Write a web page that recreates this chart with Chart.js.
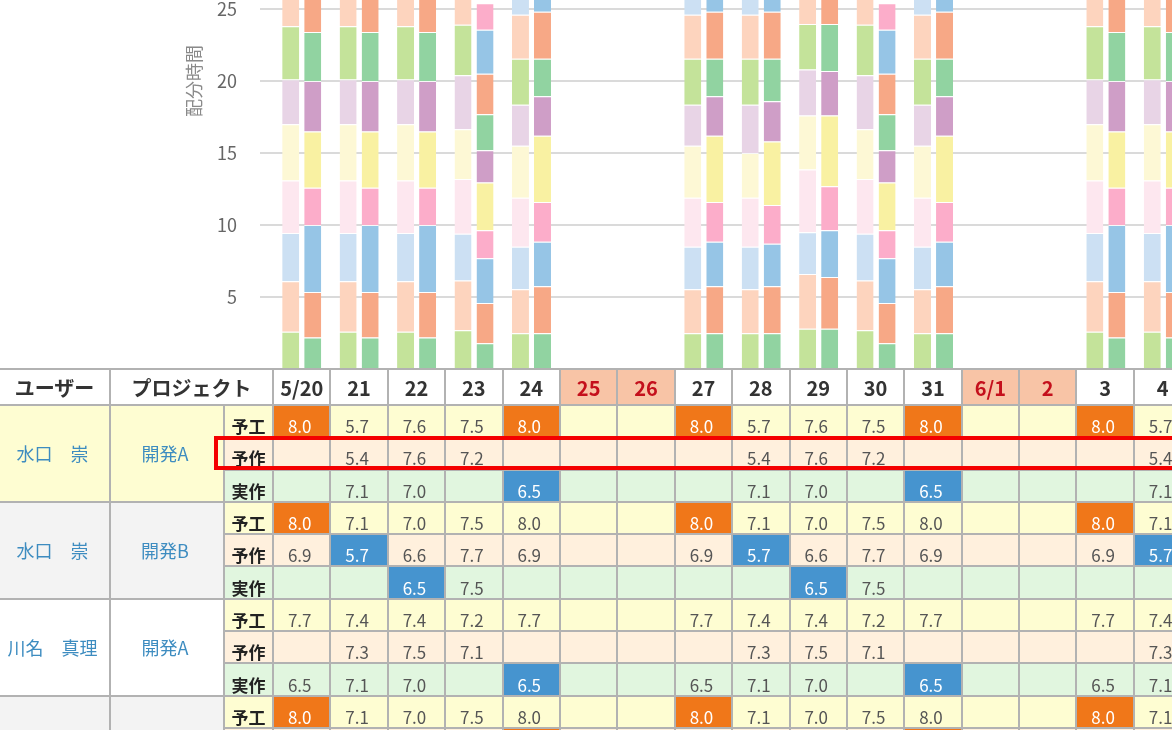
<!DOCTYPE html>
<html lang="ja">
<head>
<meta charset="utf-8">
<title>配分時間</title>
<script src="https://cdn.jsdelivr.net/npm/chart.js@4.4.1/dist/chart.umd.min.js"></script>
<style>
  html, body { margin: 0; padding: 0; background: #fff; }
  body {
    width: 1172px; height: 730px; overflow: hidden; position: relative;
    font-family: "Noto Sans CJK JP", "Noto Sans", sans-serif;
  }
  #chartBox { position: absolute; left: 0; top: -216px; width: 1192px; }
  #grid {
    position: absolute; left: 0; top: 368px;
    border-collapse: collapse; table-layout: fixed; width: 1192px;
  }
  #grid th, #grid td {
    border: 2px solid #b2b2b2; padding: 0; text-align: center;
    white-space: nowrap; overflow: hidden;
  }
  #grid th:first-child, #grid td.user { border-left: 0; }
  #grid thead tr { height: 36px; }
  #grid thead th {
    font-size: 20px; font-weight: bold; color: #333; background: #fff;
  }
  #grid thead th.off { background: #f8c4a6; color: #c4101c; }
  #grid tbody tr { height: 32.3px; }
  #grid td {
    font-size: 17px; color: #555; line-height: 20px;
    padding-top: 10px; padding-right: 4px; vertical-align: middle;
  }
  #grid td.user, #grid td.proj {
    color: #3d8cc0; padding: 0 4px 0 0; font-size: 18px;
  }
  #grid td.lbl { font-weight: bold; color: #222; font-size: 17px; padding-right: 0; }
  #grid tr.yk td { background: #fefdd2; }
  #grid tr.ys td { background: #fff0dd; }
  #grid tr.js td { background: #e1f6df; }
  #grid td.g0 { background: #fefdd2 !important; }
  #grid td.g1 { background: #f3f3f3 !important; }
  #grid td.g2 { background: #ffffff !important; }
  #grid td.g3 { background: #f3f3f3 !important; }
  #grid td.o { background: #f07719 !important; color: #fff; }
  #grid td.b { background: #4694cf !important; color: #fff; }
  #focusBox {
    position: absolute; left: 214px; top: 436px; width: 1000px; height: 34px;
    box-sizing: border-box; border: 4px solid #f40000;
  }
</style>
</head>
<body>
<div id="chartBox"><canvas id="allocChart" width="1192" height="600"></canvas></div>
<table id="grid">
  <colgroup id="cols"></colgroup>
  <thead><tr id="headRow"></tr></thead>
  <tbody id="gridBody"></tbody>
</table>
<div id="focusBox"></div>
<script>
// days shown (weekend/holiday flags)
const days = ["5/20", "21", "22", "23", "24", "25", "26", "27", "28", "29", "30", "31", "6/1", "2", "3", "4"];
const offDays = [false, false, false, false, false, true, true, false, false, false, false, false, true, true, false, false];

const yTicks = [0, 5, 10, 15, 20, 25, 30, 35, 40];

// 予定 stack, bottom to top
const plan1 = [2.6, 2.6, 2.6, 2.7, 2.5, null, null, 2.5, 2.5, 2.8, 2.7, 2.5, null, null, 2.6, 2.6];
const plan2 = [3.5, 3.5, 3.5, 3.45, 3.05, null, null, 3.05, 3.05, 3.8, 3.45, 3.05, null, null, 3.5, 3.5];
const plan3 = [3.35, 3.35, 3.35, 3.25, 2.95, null, null, 2.95, 2.95, 2.9, 3.25, 2.95, null, null, 3.35, 3.35];
const plan4 = [3.65, 3.65, 3.65, 3.8, 3.4, null, null, 3.4, 3.4, 4.35, 3.8, 3.4, null, null, 3.65, 3.65];
const plan5 = [3.9, 3.9, 3.9, 3.45, 3.6, null, null, 3.6, 3.1, 3.75, 3.45, 3.6, null, null, 3.9, 3.9];
const plan6 = [3.1, 3.1, 3.1, 3.75, 2.85, null, null, 2.85, 3.35, 3.2, 3.75, 2.85, null, null, 3.1, 3.1];
const plan7 = [3.7, 3.7, 3.7, 3.5, 3.2, null, null, 3.2, 3.2, 3.15, 3.5, 3.2, null, null, 3.7, 3.7];
const plan8 = [3.4, 3.4, 3.4, 3.3, 3.05, null, null, 3.05, 3.05, 3.0, 3.3, 3.05, null, null, 3.4, 3.4];
const plan9 = [2.0, 2.0, 2.0, 1.5, 1.5, null, null, 1.5, 1.5, 1.5, 1.5, 1.5, null, null, 2.0, 2.0];

// 実績 stack, bottom to top
const act1 = [2.2, 2.2, 2.2, 1.8, 2.5, null, null, 2.5, 2.5, 2.8, 1.8, 2.5, null, null, 2.2, 2.2];
const act2 = [3.15, 3.15, 3.15, 2.8, 3.25, null, null, 3.25, 3.25, 3.6, 2.8, 3.25, null, null, 3.15, 3.15];
const act3 = [4.65, 4.65, 4.65, 3.1, 3.1, null, null, 3.1, 2.95, 3.25, 3.1, 3.1, null, null, 4.65, 4.65];
const act4 = [2.6, 2.6, 2.6, 1.95, 2.75, null, null, 2.75, 2.7, 3.05, 1.95, 2.75, null, null, 2.6, 2.6];
const act5 = [3.9, 3.9, 3.9, 3.3, 4.6, null, null, 4.6, 4.4, 4.9, 3.3, 4.6, null, null, 3.9, 3.9];
const act6 = [3.5, 3.5, 3.5, 2.25, 2.75, null, null, 2.75, 2.8, 3.1, 2.25, 2.75, null, null, 3.5, 3.5];
const act7 = [3.4, 3.4, 3.4, 2.5, 2.6, null, null, 2.6, 2.95, 3.25, 2.5, 2.6, null, null, 3.4, 3.4];
const act8 = [3.2, 3.2, 3.2, 2.8, 3.25, null, null, 3.25, 3.25, 3.0, 2.8, 3.25, null, null, 3.2, 3.2];
const act9 = [1.0, 1.0, 1.0, 3.05, 1.5, null, null, 1.5, 1.5, 1.0, 3.05, 1.5, null, null, 1.0, 1.0];
const act10 = [null, null, null, 1.85, null, null, null, null, null, null, 1.85, null, null, null, null, null];

const planColors = ["#c4e39a", "#fdd4be", "#cce0f3", "#fde7ef", "#fdf8d5", "#e8d4e6", "#c4e39a", "#fdd4be", "#cce0f3"];
const actColors = ["#91d3a1", "#f7a886", "#96c5e6", "#fcadca", "#f9f1a2", "#cf9ec7", "#91d3a1", "#f7a886", "#96c5e6", "#fcadca"];

// table rows: users, projects, values per day, marks (o = orange, b = blue)
const rowLabels = ["予工", "予作", "実作"];
const users = ["水口　崇", "水口　崇", "川名　真理", ""];
const projects = ["開発A", "開発B", "開発A", ""];

const g1Plan = [8.0, 5.7, 7.6, 7.5, 8.0, null, null, 8.0, 5.7, 7.6, 7.5, 8.0, null, null, 8.0, 5.7];
const g1Work = [null, 5.4, 7.6, 7.2, null, null, null, null, 5.4, 7.6, 7.2, null, null, null, null, 5.4];
const g1Done = [null, 7.1, 7.0, null, 6.5, null, null, null, 7.1, 7.0, null, 6.5, null, null, null, 7.1];
const g1Marks = ["o...o..o...o..o.", "................", "....b......b...."];

const g2Plan = [8.0, 7.1, 7.0, 7.5, 8.0, null, null, 8.0, 7.1, 7.0, 7.5, 8.0, null, null, 8.0, 7.1];
const g2Work = [6.9, 5.7, 6.6, 7.7, 6.9, null, null, 6.9, 5.7, 6.6, 7.7, 6.9, null, null, 6.9, 5.7];
const g2Done = [null, null, 6.5, 7.5, null, null, null, null, null, 6.5, 7.5, null, null, null, null, null];
const g2Marks = ["o......o......o.", ".b......b......b", "..b......b......"];

const g3Plan = [7.7, 7.4, 7.4, 7.2, 7.7, null, null, 7.7, 7.4, 7.4, 7.2, 7.7, null, null, 7.7, 7.4];
const g3Work = [null, 7.3, 7.5, 7.1, null, null, null, null, 7.3, 7.5, 7.1, null, null, null, null, 7.3];
const g3Done = [6.5, 7.1, 7.0, null, 6.5, null, null, 6.5, 7.1, 7.0, null, 6.5, null, null, 6.5, 7.1];
const g3Marks = ["................", "................", "....b......b...."];

const g4Plan = [8.0, 7.1, 7.0, 7.5, 8.0, null, null, 8.0, 7.1, 7.0, 7.5, 8.0, null, null, 8.0, 7.1];
const g4Work = [6.9, 5.7, 6.6, 7.7, 8.0, null, null, 6.9, 5.7, 6.6, 7.7, 8.0, null, null, 6.9, 5.7];
const g4Done = [null, null, null, null, null, null, null, null, null, null, null, null, null, null, null, null];
const g4Marks = ["o......o......o.", "....o......o....", "................"];


const planLayers = [plan1, plan2, plan3, plan4, plan5, plan6, plan7, plan8, plan9];
const actLayers = [act1, act2, act3, act4, act5, act6, act7, act8, act9, act10];

const datasets = [];

planLayers.forEach(function(values, i) {
    datasets.push({
        label: "予定" + (i + 1),
        stack: "plan",
        data: values,
        backgroundColor: planColors[i],
        borderColor: "rgba(255,255,255,0.8)",
        borderWidth: { top: 1, bottom: 0, left: 0, right: 0 },
        borderSkipped: false
    });
});

actLayers.forEach(function(values, i) {
    datasets.push({
        label: "実績" + (i + 1),
        stack: "actual",
        data: values,
        backgroundColor: actColors[i],
        borderColor: "rgba(255,255,255,0.8)",
        borderWidth: { top: 1, bottom: 0, left: 0, right: 0 },
        borderSkipped: false
    });
});

Chart.defaults.font.family = '"Noto Sans CJK JP", "Noto Sans", sans-serif';

const canvas = document.getElementById("allocChart");

function buildChart(height) {
    canvas.height = height;
    canvas.style.height = height + "px";
    canvas.style.width = "1192px";

    return new Chart(canvas, {
        type: "bar",
        data: { labels: days, datasets: datasets },
        options: {
            responsive: false,
            animation: false,
            layout: { padding: 0 },
            categoryPercentage: 0.767,
            barPercentage: 0.773,
            plugins: {
                legend: { display: false },
                tooltip: { enabled: false }
            },
            scales: {
                x: {
                    stacked: true,
                    grid: { display: false },
                    ticks: { display: false },
                    border: { display: true, color: "#8e8e8e", width: 2 },
                    afterFit: function(scale) { scale.height = 0; }
                },
                y: {
                    stacked: true,
                    min: yTicks[0],
                    max: yTicks[yTicks.length - 1],
                    afterBuildTicks: function(scale) {
                        scale.ticks = yTicks.map(function(v) { return { value: v }; });
                    },
                    ticks: {
                        padding: 23,
                        color: "#666",
                        font: { size: 18 },
                        callback: function(v) { return v === 0 ? "" : v; }
                    },
                    grid: { color: "#dadada", lineWidth: 2, tickLength: 13 },
                    border: { display: false },
                    title: {
                        display: true,
                        text: "配分時間",
                        color: "#8a8a8a",
                        font: { size: 18 },
                        padding: { top: 183, bottom: 0 }
                    },
                    afterFit: function(scale) { scale.width = 273; }
                }
            }
        }
    });
}

let chart = buildChart(600);
const areaHeight = chart.chartArea.bottom - chart.chartArea.top;
chart.destroy();
chart = buildChart(Math.round(600 + 576 - areaHeight));
document.getElementById("chartBox").style.top =
    (8.5 - chart.scales.y.getPixelForValue(25)) + "px";


// table
const cols = document.getElementById("cols");
[110, 114, 49].concat(days.map(function() { return 57.4; })).forEach(function(w) {
    const col = document.createElement("col");
    col.style.width = w + "px";
    cols.appendChild(col);
});

const headRow = document.getElementById("headRow");
function addTh(text, span, cls) {
    const th = document.createElement("th");
    th.textContent = text;
    if (span) th.colSpan = span;
    if (cls) th.className = cls;
    headRow.appendChild(th);
}
addTh("ユーザー");
addTh("プロジェクト", 2);
days.forEach(function(d, i) { addTh(d, 0, offDays[i] ? "off" : ""); });

const groupRows = [
    [g1Plan, g1Work, g1Done, g1Marks],
    [g2Plan, g2Work, g2Done, g2Marks],
    [g3Plan, g3Work, g3Done, g3Marks],
    [g4Plan, g4Work, g4Done, g4Marks]
];
const rowClasses = ["yk", "ys", "js"];

const body = document.getElementById("gridBody");
groupRows.forEach(function(g, gi) {
    for (let r = 0; r < 3; r++) {
        const tr = document.createElement("tr");
        tr.className = rowClasses[r];
        if (r === 0) {
            const u = document.createElement("td");
            u.className = "user g" + gi;
            u.rowSpan = 3;
            u.textContent = users[gi];
            tr.appendChild(u);
            const p = document.createElement("td");
            p.className = "proj g" + gi;
            p.rowSpan = 3;
            p.textContent = projects[gi];
            tr.appendChild(p);
        }
        const lbl = document.createElement("td");
        lbl.className = "lbl";
        lbl.textContent = rowLabels[r];
        tr.appendChild(lbl);
        const values = g[r];
        const marks = g[3][r];
        values.forEach(function(v, i) {
            const td = document.createElement("td");
            if (v !== null) td.textContent = v.toFixed(1);
            if (marks[i] !== ".") td.className = marks[i];
            tr.appendChild(td);
        });
        body.appendChild(tr);
    }
});
</script>
</body>
</html>
